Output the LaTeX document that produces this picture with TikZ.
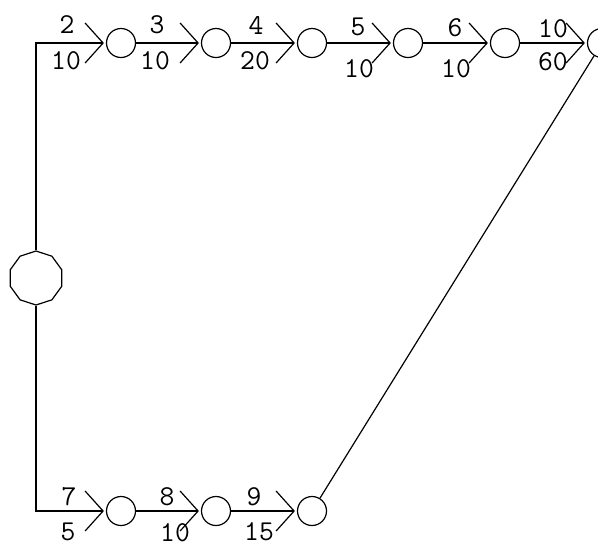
\documentclass[tikz,border=0pt]{standalone}
\usetikzlibrary{shapes.geometric,arrows.meta}
\begin{document}
\begin{tikzpicture}[x=0.5pt, y=-0.5pt, line width=0.6pt,
    hub/.style={draw, regular polygon, regular polygon sides=10,
        shape border rotate=18, minimum size=27pt, inner sep=0pt},
    stage/.style={draw, circle, minimum size=14.5pt, inner sep=0pt},
    flow/.style={-{Straight Barb[length=9pt, width=20pt]}, shorten >=1pt},
    lab/.style={font=\ttfamily\fontsize{14.4}{16}\selectfont, inner sep=0pt}]
    \path[clip, use as bounding box] (0,0) rectangle (598,547);

    % Start event and the two chains
    \node[hub] (src) at (36,278) {};
    \foreach \n/\x in {1/121, 2/216, 3/312, 4/408, 5/505, 6/602}
        \node[stage] (t\n) at (\x,43) {};
    \foreach \n/\x in {1/121, 2/216, 3/312}
        \node[stage] (b\n) at (\x,511) {};

    % Activities
    \draw[flow] (src) |- (t1);
    \draw[flow] (src) |- (b1);
    \foreach \a/\b in {1/2, 2/3, 3/4, 4/5, 5/6}
        \draw[flow] (t\a) -- (t\b);
    \foreach \a/\b in {1/2, 2/3}
        \draw[flow] (b\a) -- (b\b);
    \draw (b3) -- (t6);

    % Activity numbers and durations
    \foreach \t/\x/\y [count=\i] in {2/67/25, 10/66/61, 3/157/25, 10/155/61,
        4/256/25, 20/255/61, 5/358/27, 10/359/69, 6/455/28, 10/456/69,
        10/553/29, 60/553/62, 7/69/497, 5/68/532, 8/167/497, 10/175/533,
        9/254/497, 15/259/532}
        \node[lab] (lab\i) at (\x,\y) {\t};
\end{tikzpicture}
\end{document}
